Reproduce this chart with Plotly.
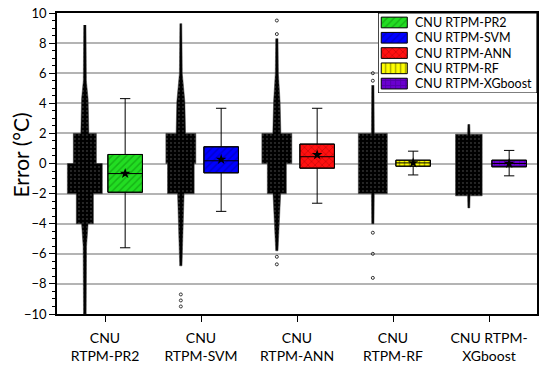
import plotly.graph_objects as go

# ---------------- data ----------------
categories = ["CNU<br>RTPM-PR2", "CNU<br>RTPM-SVM", "CNU<br>RTPM-ANN",
              "CNU<br>RTPM-RF", "CNU RTPM-<br>XGboost"]
series_names = ["CNU RTPM-PR2", "CNU RTPM-SVM", "CNU RTPM-ANN",
                "CNU RTPM-RF", "CNU RTPM-XGboost"]
y_title = "Error (°C)"

q1 = [-1.91, -0.62, -0.31, -0.18, -0.22]
median = [-0.67, 0.18, 0.45, 0.04, 0.00]
q3 = [0.60, 1.11, 1.29, 0.22, 0.22]
lower_whisker = [-5.60, -3.18, -2.64, -0.76, -0.82]
upper_whisker = [4.31, 3.67, 3.67, 0.82, 0.87]
mean = [-0.67, 0.27, 0.58, 0.04, 0.00]

# point-cloud outline: error level and half-spread of the jittered points (category units)
pr2_cloud_y = [9.2, 5.5, 4.3, 2.0, 2.0, 0.0, 0.0, -2.0, -2.0, -4.0, -4.0, -5.5, -10.0]
pr2_cloud_w = [0.012, 0.016, 0.034, 0.042, 0.120, 0.120, 0.182, 0.182, 0.089, 0.089, 0.034, 0.018, 0.014]
svm_cloud_y = [9.3, 6.0, 4.1, 2.0, 2.0, 0.0, 0.0, -2.0, -2.0, -4.0, -6.8]
svm_cloud_w = [0.010, 0.015, 0.042, 0.049, 0.156, 0.156, 0.139, 0.139, 0.034, 0.022, 0.012]
ann_cloud_y = [8.3, 6.0, 4.1, 2.0, 2.0, 0.0, 0.0, -2.0, -2.0, -4.0, -5.8]
ann_cloud_w = [0.012, 0.016, 0.034, 0.042, 0.156, 0.156, 0.099, 0.099, 0.040, 0.025, 0.012]
rf_cloud_y = [5.2, 2.0, 2.0, -2.0, -2.0, -4.0]
rf_cloud_w = [0.012, 0.015, 0.151, 0.151, 0.015, 0.012]
xgb_cloud_y = [2.6, 1.95, 1.95, -2.15, -2.15, -2.95]
xgb_cloud_w = [0.010, 0.013, 0.139, 0.139, 0.013, 0.010]

# isolated points outside the dense clouds
svm_outliers = [-8.7, -9.1, -9.5]
ann_outliers = [9.5, 8.6, -6.2, -6.7]
rf_outliers = [6.0, 5.5, -4.6, -6.0, -7.6]

cloud_y = [pr2_cloud_y, svm_cloud_y, ann_cloud_y, rf_cloud_y, xgb_cloud_y]
cloud_w = [pr2_cloud_w, svm_cloud_w, ann_cloud_w, rf_cloud_w, xgb_cloud_w]
outliers = [[], svm_outliers, ann_outliers, rf_outliers, []]

# ---------------- styles ----------------
box_bg = ["#22dd22", "#0000ff", "#ff1010", "#ffff00", "#6a00d0"]
box_fg = ["#0a8a0a", "#0000a0", "#a00000", "#555500", "#3a0080"]
box_shape = ["/", "/", "x", "|", "+"]
FONT = "Lato"
cloud_off = -0.21
box_off = 0.21
box_w = 0.36

fig = go.Figure()

for i in range(len(categories)):
    cx = i + cloud_off
    ys = cloud_y[i]
    ws = cloud_w[i]
    px = [cx + w for w in ws] + [cx - w for w in reversed(ws)]
    py = list(ys) + list(reversed(ys))
    fig.add_trace(go.Scatter(
        x=px, y=py, mode="lines", fill="toself",
        fillcolor="black",
        fillpattern=dict(shape=".", bgcolor="black", fgcolor="#bbbbbb",
                         size=4, solidity=0.1),
        line=dict(color="#333333", width=0.5),
        hoverinfo="skip", showlegend=False))
    if outliers[i]:
        fig.add_trace(go.Scatter(
            x=[cx] * len(outliers[i]), y=outliers[i], mode="markers",
            marker=dict(symbol="circle-open", size=3, color="#333333",
                        line=dict(width=1)),
            hoverinfo="skip", showlegend=False))

for i in range(len(categories)):
    bx = i + box_off
    fig.add_trace(go.Bar(
        x=[bx], base=[q1[i]], y=[q3[i] - q1[i]], width=box_w,
        marker=dict(color=box_bg[i], line=dict(color="black", width=1),
                    pattern=dict(shape=box_shape[i], bgcolor=box_bg[i],
                                 fgcolor=box_fg[i], size=5, solidity=0.3)),
        hoverinfo="skip", showlegend=False))
    fig.add_trace(go.Box(
        x=[bx], q1=[q1[i]], median=[median[i]], q3=[q3[i]],
        lowerfence=[lower_whisker[i]], upperfence=[upper_whisker[i]],
        width=box_w, fillcolor="rgba(0,0,0,0)",
        line=dict(color="black", width=1), whiskerwidth=0.3,
        boxpoints=False, hoverinfo="skip", showlegend=False))
    fig.add_trace(go.Scatter(
        x=[bx], y=[mean[i]], mode="markers",
        marker=dict(symbol="star", size=8, color="black"),
        hoverinfo="skip", showlegend=False))

# ---------------- legend drawn in an inset axis ----------------
LX = [-0.12, 5.98]
LY = [4.62, -0.62]
fig.add_trace(go.Scatter(
    x=[LX[0], LX[1], LX[1], LX[0], LX[0]], y=[LY[0], LY[0], LY[1], LY[1], LY[0]],
    xaxis="x2", yaxis="y2", mode="lines", fill="toself", fillcolor="white",
    line=dict(color="black", width=1.2), hoverinfo="skip", showlegend=False))
SW_H = 0.35
for i in range(len(series_names)):
    fig.add_trace(go.Scatter(
        x=[0, 1, 1, 0, 0], y=[i - SW_H, i - SW_H, i + SW_H, i + SW_H, i - SW_H],
        xaxis="x2", yaxis="y2", mode="lines", fill="toself",
        fillcolor=box_bg[i],
        fillpattern=dict(shape=box_shape[i], bgcolor=box_bg[i],
                         fgcolor=box_fg[i], size=5, solidity=0.3),
        line=dict(color="black", width=1), hoverinfo="skip", showlegend=False))
    fig.add_annotation(x=1.2, y=i, xref="x2", yref="y2", text=series_names[i],
                       showarrow=False, xanchor="left", yanchor="middle",
                       font=dict(size=12.5, family=FONT, color="black"))

# y-axis title as a rotated annotation placed left of the tick labels
fig.add_annotation(x=0, y=0.5, xref="paper", yref="paper", text=y_title,
                   textangle=-90, showarrow=False, xanchor="center",
                   yanchor="middle", xshift=-37, yshift=8,
                   font=dict(size=21, family=FONT, color="black"))

fig.update_layout(
    width=550, height=373,
    margin=dict(l=57, r=13, t=13, b=59),
    paper_bgcolor="white", plot_bgcolor="white",
    barmode="overlay", boxmode="overlay", showlegend=False,
    font=dict(family=FONT, color="black", size=13),
    xaxis=dict(
        range=[-0.5, 4.5], tickmode="array", tickvals=list(range(len(categories))),
        ticktext=categories, ticks="outside", ticklen=6, tickcolor="black",
        showgrid=False, zeroline=False, showline=True, linecolor="black",
        linewidth=1.5, mirror=True, tickfont=dict(size=14, family=FONT),
        automargin=False, ticklabelstandoff=4, ticklabeloverflow="allow"),
    yaxis=dict(
        range=[-10, 10], dtick=2, ticks="outside", ticklen=6, tickcolor="black",
        minor=dict(dtick=0.5, ticks="outside", ticklen=3, tickcolor="black", showgrid=False),
        showgrid=True, gridcolor="#b4b4b4", gridwidth=1.5, zeroline=False,
        showline=True, linecolor="black", linewidth=1.5, mirror=True,
        tickfont=dict(size=13, family=FONT), automargin=False,
        ticklabeloverflow="allow"),
    xaxis2=dict(domain=[0.669, 1.0], range=LX, anchor="y2",
                visible=False, fixedrange=True),
    yaxis2=dict(domain=[0.734, 1.0], range=LY, anchor="x2",
                visible=False, fixedrange=True),
)

# remove the page's default body margin so the 550x373 figure fills the window
fig.write_html("out.html", config={"displayModeBar": False},
               post_script="document.body.style.margin='0';")
